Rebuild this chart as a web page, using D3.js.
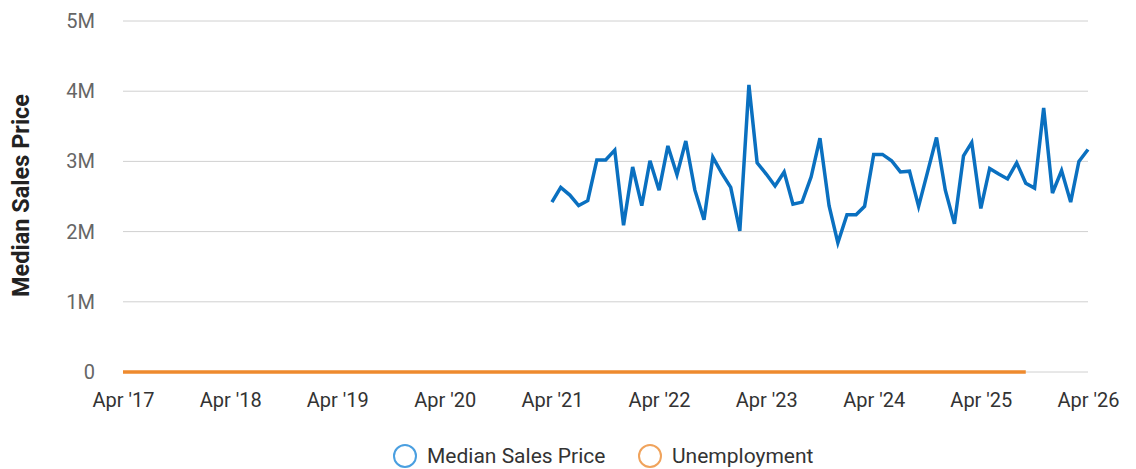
<!DOCTYPE html>
<html>
<head>
<meta charset="utf-8">
<script src="https://cdn.jsdelivr.net/npm/d3@7"></script>
<style>
  body { margin: 0; background: #fff; font-family: Roboto, "Noto Sans", sans-serif; }
</style>
</head>
<body>
<div id="chart"></div>
<script>
// monthly median sales price, Apr 2021 .. Apr 2026
var priceStart = "2021-04";
var priceValues = [2.42, 2.63, 2.52, 2.37, 2.44, 3.02, 3.02, 3.16, 2.09, 2.92,
  2.37, 3.01, 2.59, 3.22, 2.81, 3.29, 2.59, 2.17, 3.06, 2.83,
  2.63, 2.01, 4.09, 2.98, 2.82, 2.65, 2.85, 2.39, 2.42, 2.78,
  3.33, 2.37, 1.84, 2.24, 2.24, 2.36, 3.10, 3.10, 3.01, 2.85,
  2.86, 2.36, 2.84, 3.34, 2.59, 2.11, 3.08, 3.27, 2.33, 2.90,
  2.82, 2.75, 2.98, 2.69, 2.62, 3.76, 2.55, 2.87, 2.42, 3.00, 3.17];

// monthly unemployment rate (%), Apr 2017 .. Sep 2025
var unempStart = "2017-04";
var unempValues = [4.4, 4.4, 4.3, 4.3, 4.4, 4.2, 4.1, 4.2, 4.1, 4.1, 4.1, 4.0,
  4.0, 3.8, 4.0, 3.8, 3.8, 3.7, 3.8, 3.8, 3.9, 4.0, 3.8, 3.8,
  3.7, 3.6, 3.6, 3.7, 3.6, 3.5, 3.6, 3.6, 3.6, 3.5, 3.6, 3.5,
  4.4, 14.8, 13.2, 11.0, 10.2, 8.4, 7.8, 6.9, 6.7, 6.7, 6.4, 6.2,
  6.1, 6.0, 5.9, 5.9, 5.4, 5.1, 4.7, 4.5, 4.2, 3.9, 4.0, 3.8,
  3.6, 3.7, 3.6, 3.5, 3.6, 3.5, 3.6, 3.5, 3.4, 3.6, 3.5, 3.4,
  3.5, 3.7, 3.6, 3.5, 3.8, 3.7, 3.7, 3.7, 3.9, 3.8, 3.9, 4.0,
  4.1, 4.3, 4.2, 4.1, 4.2, 4.1, 4.0, 4.2, 4.2, 4.2, 4.1, 4.2,
  4.3, 4.3, 4.2, 4.2, 4.3, 4.3];

var yTicks = [0, 1, 2, 3, 4, 5];
var yTickLabels = ["0", "1M", "2M", "3M", "4M", "5M"];
var xDomain = ["2017-04", "2026-04"];
var seriesNames = ["Median Sales Price", "Unemployment"];

var W = 1136, H = 469;
var margin = {top: 21, right: 48, bottom: 97, left: 123};
var width = W - margin.left - margin.right,
    height = H - margin.top - margin.bottom;

var parseMonth = d3.timeParse("%Y-%m");
function monthly(start, values) {
  var s = parseMonth(start);
  return values.map(function(v, i) { return {date: d3.timeMonth.offset(s, i), value: v}; });
}
var priceData = monthly(priceStart, priceValues);
var unempData = monthly(unempStart, unempValues);

var svg = d3.select("#chart").append("svg")
  .attr("width", W).attr("height", H)
  .append("g")
  .attr("transform", "translate(" + margin.left + "," + margin.top + ")");

var x_scale = d3.scaleTime()
  .domain(xDomain.map(parseMonth))
  .range([0, width]);

var y_scale = d3.scaleLinear()
  .domain([0, 5])
  .range([height, 0]);

// grid
svg.append("g")
  .selectAll("line").data(yTicks).enter().append("line")
  .attr("x1", 0).attr("x2", width)
  .attr("y1", function(d) { return y_scale(d); })
  .attr("y2", function(d) { return y_scale(d); })
  .attr("stroke", "#d0d0d0").attr("stroke-width", 1);

// y axis labels
var yAxis = svg.append("g")
  .call(d3.axisLeft(y_scale).tickValues(yTicks)
    .tickFormat(function(d, i) { return yTickLabels[i]; })
    .tickSize(0).tickPadding(28));
yAxis.select(".domain").remove();
yAxis.selectAll("text").attr("font-size", 20).attr("fill", "#666")
  .attr("font-family", "Roboto, sans-serif");

// x axis labels
var xTickDates = d3.timeYear.range(new Date(2017, 0, 1), new Date(2027, 0, 1))
  .map(function(d) { return new Date(d.getFullYear(), 3, 1); });
var xAxis = svg.append("g")
  .attr("transform", "translate(0," + height + ")")
  .call(d3.axisBottom(x_scale).tickValues(xTickDates)
    .tickFormat(d3.timeFormat("%b '%y"))
    .tickSize(0).tickPadding(21));
xAxis.select(".domain").remove();
xAxis.selectAll("text").attr("font-size", 20).attr("fill", "#333")
  .attr("font-family", "Roboto, sans-serif");

// y title
svg.append("text")
  .attr("transform", "translate(" + (-94) + "," + (height / 2 - 1) + ") rotate(-90)")
  .attr("text-anchor", "middle")
  .attr("font-size", 23.5).attr("font-weight", "bold").attr("fill", "#222")
  .attr("font-family", "Roboto, sans-serif")
  .text("Median Sales Price");

// unemployment (on the price scale, so it sits at zero)
svg.append("path")
  .datum(unempData)
  .attr("fill", "none")
  .attr("stroke", "#ee8a2e")
  .attr("stroke-width", 3.5)
  .attr("d", d3.line()
    .x(function(d) { return x_scale(d.date); })
    .y(function(d) { return y_scale(d.value / 1e6); }));

// price line
svg.append("path")
  .datum(priceData)
  .attr("fill", "none")
  .attr("stroke", "#0a70c0")
  .attr("stroke-width", 3.5)
  .attr("d", d3.line()
    .x(function(d) { return x_scale(d.date); })
    .y(function(d) { return y_scale(d.value); }));

// legend
var legendColors = ["#4a9fe0", "#f0a35c"];
var legendX = [405, 650];
var legend = d3.select("svg").append("g");
seriesNames.forEach(function(name, i) {
  legend.append("circle")
    .attr("cx", legendX[i]).attr("cy", 456).attr("r", 11)
    .attr("fill", "#fff").attr("stroke", legendColors[i]).attr("stroke-width", 2);
  legend.append("text")
    .attr("x", legendX[i] + 22).attr("y", 463)
    .attr("font-size", 21).attr("fill", "#333")
    .attr("font-family", "Roboto, sans-serif")
    .text(name);
});
</script>
</body>
</html>
